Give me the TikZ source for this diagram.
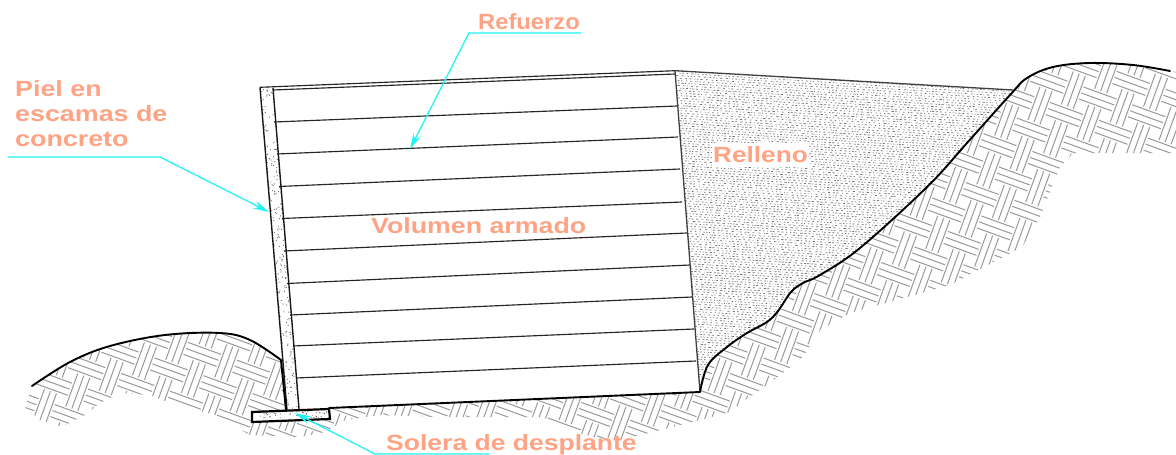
\documentclass[tikz,border=0pt]{standalone}
\usepackage{fontspec}
\usepackage{graphicx}
\setmainfont{Liberation Sans Bold}
\usetikzlibrary{arrows.meta}
\definecolor{lblcol}{HTML}{FFA385}
\definecolor{leadcol}{HTML}{1FF5F5}
\tikzset{
  hatchline/.style={draw=black!40,line width=1pt},
  speck/.style={draw=black!55,line width=0.7pt},
  ground/.style={draw=black,line width=1.9pt,line cap=round,line join=round},
  strip/.style={draw=black!85,line width=1.15pt},
  wallline/.style={draw=black!90,line width=1.4pt},
  leader/.style={draw=leadcol,line width=1.25pt,-{Stealth[length=16pt,width=8pt,fill=leadcol]}},
  lbl/.style={text=lblcol,font=\fontsize{22}{25}\selectfont,inner sep=0pt}
}
\def\leftcurve{(32,386) (70,362) (110,346) (165,335) (220,333) (250,340) (281,360)}
\def\rightcurve{(700,392) (708,365) (727,347) (747,333) (767,322) (778,311) (791,292) (803,283) (820,275) (860,248) (927,187) (967,143) (1010,95) (1027,78) (1053,67) (1090,63) (1133,65) (1170,71)}
\newcommand{\tilesp}{6.4}
\newcommand{\tilehalf}{17.5}
\begin{document}
\begin{tikzpicture}[x=1pt,y=-1pt]
\useasboundingbox (0,0) rectangle (1176,455);
\fill[white] (0,0) rectangle (1176,455);
% ---- soil hatch
\begin{scope}
\clip plot[smooth,tension=.6] coordinates {\leftcurve} -- (286,410) -- (329,408) -- (700,392)
  -- plot[smooth,tension=.6] coordinates {\rightcurve} -- (1176,72) -- (1176,153) -- (1073,153)
  -- (1060,167) -- (1040,217) -- (1022,247) -- (950,285) -- (850,313) -- (820,330) -- (803,357)
  -- (783,373) -- (760,390) -- (727,413) -- (680,425) -- (653,432) -- (620,440) -- (597,438)
  -- (560,428) -- (543,417) -- (437,417) -- (380,415) -- (345,420) -- (325,432) -- (300,437)
  -- (250,435) -- (215,415) -- (170,403) -- (150,395) -- (120,393) -- (100,403) -- (85,415)
  -- (62,427) -- (40,420) -- (25,407) -- cycle;
\begin{scope}[x={(.94pt,-.342pt)},y={(-.342pt,-.94pt)},shift={(600pt,-250pt)}]
\foreach \i in {-30,...,30}{\foreach \j in {-22,...,22}{
  \pgfmathsetmacro\cu{26*\i}\pgfmathsetmacro\cv{26*\j}
  \ifodd\numexpr\i+\j\relax
    \draw[hatchline] (\cu-\tilesp,\cv-\tilehalf) -- (\cu-\tilesp,\cv+\tilehalf)
      (\cu,\cv-\tilehalf) -- (\cu,\cv+\tilehalf)
      (\cu+\tilesp,\cv-\tilehalf) -- (\cu+\tilesp,\cv+\tilehalf);
  \else
    \draw[hatchline] (\cu-\tilehalf,\cv-\tilesp) -- (\cu+\tilehalf,\cv-\tilesp)
      (\cu-\tilehalf,\cv) -- (\cu+\tilehalf,\cv)
      (\cu-\tilehalf,\cv+\tilesp) -- (\cu+\tilehalf,\cv+\tilesp);
  \fi
}}
\end{scope}
\end{scope}
% ---- fill stipple
\pgfmathsetseed{7}
\begin{scope}
\clip (675,71) -- (1013,90) -- plot[smooth,tension=.6] coordinates {(1013,92) (967,143) (927,187) (860,248) (820,275) (803,283) (791,292) (778,311) (767,322) (747,333) (727,347) (708,365) (700,392)} -- cycle;
\foreach \k in {0,...,145}{
  \pgfmathsetmacro\ya{50+2.5*\k}
  \pgfmathsetmacro\da{.6+2*rnd}\pgfmathsetmacro\db{1+3*rnd}
  \pgfmathsetmacro\dc{.6+2*rnd}\pgfmathsetmacro\dd{1+3*rnd}
  \pgfmathsetmacro\de{.6+2*rnd}\pgfmathsetmacro\df{1+3*rnd}
  \pgfmathsetmacro\dg{.6+2*rnd}\pgfmathsetmacro\dh{1+3*rnd}
  \pgfmathsetmacro\di{.6+2*rnd}\pgfmathsetmacro\dj{1+3*rnd}
  \pgfmathsetmacro\dk{.6+2*rnd}\pgfmathsetmacro\dl{1+3*rnd}
  \pgfmathsetmacro\ph{30*rnd}
  \draw[speck,dash pattern=on \da pt off \db pt on \dc pt off \dd pt on \de pt off \df pt on \dg pt off \dh pt on \di pt off \dj pt on \dk pt off \dl pt,dash phase=\ph pt]
    (670,\ya) -- (1020,\ya+22);
}
\end{scope}
% ---- wall skin and footing
\fill[white] (260,87) -- (273,87) -- (299,409) -- (287,410) -- cycle;
\fill[white] (252,412) -- (329,409) -- (330,419) -- (252,422) -- cycle;
\begin{scope}
\clip (260,87) -- (273,87) -- (299,409) -- (287,410) -- cycle;
\foreach \k in {1,...,220}{
  \pgfmathsetmacro\py{87+323*rnd}\pgfmathsetmacro\px{260+27*(\py-87)/323+13*rnd}
  \fill[black!60] (\px,\py) circle[radius=.6];
}
\end{scope}
\begin{scope}
\clip (252,412) -- (329,409) -- (330,419) -- (252,422) -- cycle;
\foreach \k in {1,...,50}{
  \pgfmathsetmacro\px{254+74*rnd}\pgfmathsetmacro\py{411+7*rnd}
  \fill[black!60] (\px,\py) circle[radius=.55];
}
\end{scope}
% ---- reinforcement strips
\foreach \la/\lb/\ra/\rb in {274/122/677/106,277/154/678/137,279/186.5/680/169,282/218.5/682/202,284/251/687/233,287/283.5/690/265,290/315/692/297,293/346/694/329,296/378/696/361}{
  \draw[strip] (\la,\lb) -- (\ra,\rb);
}
\draw[strip] (260,87.3) -- (675,70.7);
\draw[strip] (273,90) -- (675,74);
% ---- outlines
\draw[wallline] (260,87.3) -- (287,410);
\draw[wallline] (273,88) -- (299,409);
\draw[draw=black!75,line width=1.3pt] (675,70.7) -- (700,392);
\draw[draw=black!75,line width=1.3pt] (675,70.7) -- (1013,90);
\draw[ground] plot[smooth,tension=.6] coordinates {\leftcurve} -- (286,410);
\draw[ground] plot[smooth,tension=.6] coordinates {\rightcurve};
\draw[ground] (329,408) -- (700,392);
\draw[draw=black,line width=2.2pt,line join=miter] (252,412) -- (329,409) -- (330,419) -- (252,422) -- cycle;
% ---- labels
\node[lbl,anchor=west] (refuerzo) at (478,22) {\scalebox{1.08}[1]{Refuerzo}};
\node[lbl,anchor=north west,align=left] (piel) at (15,80) {\scalebox{1.22}[1]{Piel en}\\\scalebox{1.22}[1]{escamas de}\\\scalebox{1.22}[1]{concreto}};
\node[lbl,anchor=west] (volumen) at (371,226) {\scalebox{1.216}[1]{Volumen armado}};
\node[lbl,anchor=west,fill=white,inner xsep=1pt,inner ysep=4pt] (relleno) at (712,155) {\scalebox{1.19}[1]{Relleno}};
\node[lbl,anchor=west] (solera) at (386,445) {\scalebox{1.205}[1]{Solera de desplante}};
% ---- leaders
\coordinate (ra) at (581,33); \coordinate (rb) at (469,33); \coordinate (rt) at (410,149);
\coordinate (pa) at (8,157); \coordinate (pb) at (160,157); \coordinate (pt) at (269,212);
\coordinate (sa) at (489,454); \coordinate (sb) at (375,454); \coordinate (st) at (295,413);
\draw[leader] (ra) -- (rb) -- (rt);
\draw[leader] (pa) -- (pb) -- (pt);
\draw[leader] (sa) -- (sb) -- (st);
\end{tikzpicture}
\end{document}
